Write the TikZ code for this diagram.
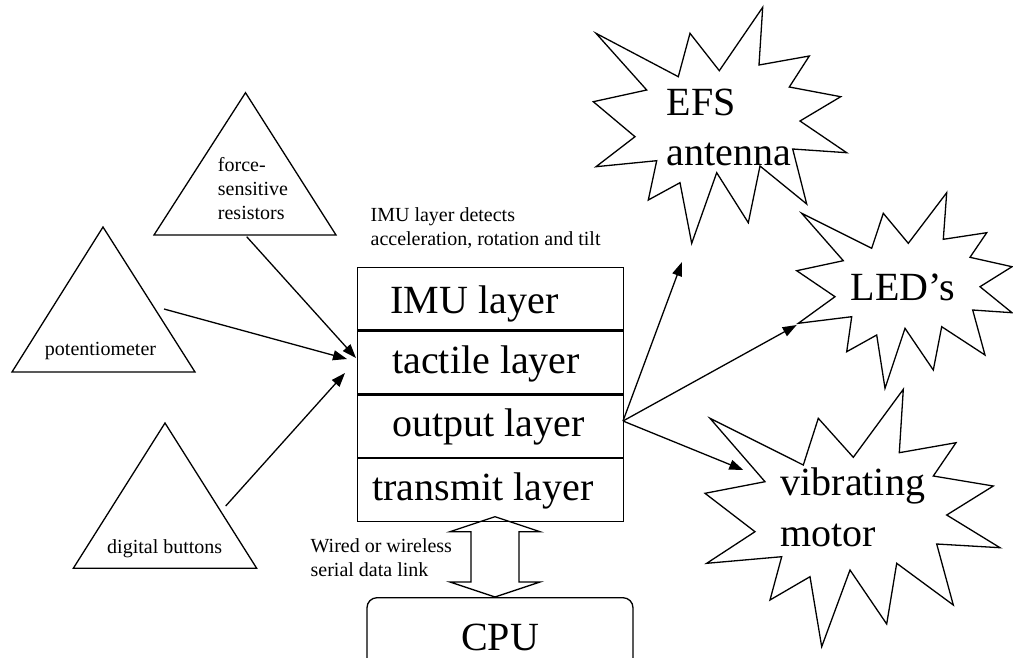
\documentclass[tikz,border=0pt]{standalone}
\usepackage{fontspec}
\setmainfont{Liberation Serif}
\usetikzlibrary{arrows.meta}
\begin{document}
\begin{tikzpicture}[x=1pt,y=-1pt, line width=1.3pt, line join=miter,
  small/.style={font=\fontsize{20}{24}\selectfont, inner sep=0pt, align=left},
  big/.style={font=\fontsize{40}{51}\selectfont, inner sep=0pt, align=left},
  conn/.style={-{Triangle[length=14pt,width=10pt]}, line width=1.3pt},
  layer/.style={draw, minimum width=266pt, minimum height=62.4pt, inner sep=0pt, anchor=north west}]
\useasboundingbox (0,0) rectangle (1013,657);
\clip (0,0) rectangle (1013,657);

% input triangles
\draw (245.5,92.7) -- (336,235) -- (154,235) -- cycle;
\draw (103,227) -- (195,372) -- (12,372) -- cycle;
\draw (165,423) -- (256.7,568.3) -- (73.3,568.3) -- cycle;
\node[small, anchor=base west] (fsr) at (217.3,219) {force-\\sensitive\\resistors};
\node[small, anchor=base] (pot) at (100.5,355) {potentiometer};
\node[small, anchor=base] (dig) at (164.7,553.3) {digital buttons};
\coordinate (fsrout) at (246.7,236.7);
\coordinate (potout) at (164,309);
\coordinate (digout) at (225.7,506);

% layered box
\node[layer] (imu) at (357,267) {};
\node[layer] (tac) at (imu.south west) {};
\node[layer] (out) at (tac.south west) {};
\node[layer] (tx) at (out.south west) {};
\node[big, anchor=base west] (imut) at (390,313) {IMU layer};
\node[big, anchor=base west] (tact) at (391.7,373.3) {tactile layer};
\node[big, anchor=base west] (outt) at (391.7,436.7) {output layer};
\node[big, anchor=base west] (txt) at (371.7,500) {transmit layer};
\node[small, anchor=base west] (note) at (370,245) {IMU layer detects\\acceleration, rotation and tilt};

\coordinate (in1) at (347,359);
\coordinate (in2) at (356,358);
\coordinate (in3) at (345,373);
\draw[conn] (potout) -- (in1);
\draw[conn] (fsrout) -- (in2);
\draw[conn] (digout) -- (in3);

% CPU and link
\draw[rounded corners=10pt] (367,597.7) rectangle (633,690);
\node[big, anchor=base] (cpu) at (500,650) {CPU};
\draw (495,516.7) -- (540,531.7) -- (519,531.7) -- (519,582) -- (540,582) -- (495,597)
  -- (450,582) -- (471,582) -- (471,531.7) -- (450,531.7) -- cycle;
\node[small, anchor=base west] (link) at (310,576.7) {Wired or wireless\\serial data link};

% output stars
\draw (762.7,7.3) -- (759,65) -- (809.3,56) -- (789.3,87) -- (840.7,96.7) -- (800,121)
  -- (846.7,152.7) -- (792.7,149) -- (806.7,204) -- (760,166) -- (748.3,222.7)
  -- (716.7,172.7) -- (691.7,243.3) -- (680,182.7) -- (648.3,200) -- (656.7,160.7)
  -- (596,166.7) -- (635,136.7) -- (593.3,101.7) -- (646.7,90) -- (596,33.3)
  -- (678.3,76.7) -- (690,33.3) -- (719.3,70.7) -- cycle;
\node[big, anchor=base west, font=\fontsize{40}{50}\selectfont] (efst) at (666,165) {EFS\\antenna};

\draw (946.7,192.7) -- (943.3,239.3) -- (986.7,232.7) -- (970,257.3) -- (1012,266.7)
  -- (980,286.7) -- (1012,312.7) -- (972.7,310) -- (985,355) -- (941.7,326.7)
  -- (933.3,370) -- (905,328.3) -- (885,388.3) -- (876.7,335) -- (846.7,351.7)
  -- (851.7,316.7) -- (798.3,323.3) -- (835,296.7) -- (796.7,270.7) -- (843.3,260.7)
  -- (801.7,213.3) -- (871.7,248.3) -- (883.3,213.3) -- (908.3,243.3) -- cycle;
\node[big, anchor=base west] (ledt) at (850,300) {LED’s};

\draw (903.3,389.3) -- (899.3,452.7) -- (956,442.7) -- (933.3,476) -- (993.3,486)
  -- (946.7,515) -- (1000,547.7) -- (936.7,544) -- (953.3,605) -- (896.7,563.3)
  -- (886.7,624) -- (850,570) -- (821.7,646.7) -- (810,576.7) -- (770,600)
  -- (781.7,556.7) -- (706.7,563.3) -- (755,531.7) -- (705,493.3) -- (765,481.7)
  -- (710,418.3) -- (803.3,465) -- (818.3,418.3) -- (853.3,457.3) -- cycle;
\node[big, anchor=base west, font=\fontsize{40}{51.7}\selectfont] (vibt) at (780,546.7) {vibrating\\motor};

\coordinate (o) at (623,421);
\coordinate (efsin) at (682,262);
\coordinate (ledin) at (796.7,325);
\coordinate (vibin) at (743.3,470);
\draw[conn] (o) -- (efsin);
\draw[conn] (o) -- (ledin);
\draw[conn] (o) -- (vibin);
\end{tikzpicture}
\end{document}
